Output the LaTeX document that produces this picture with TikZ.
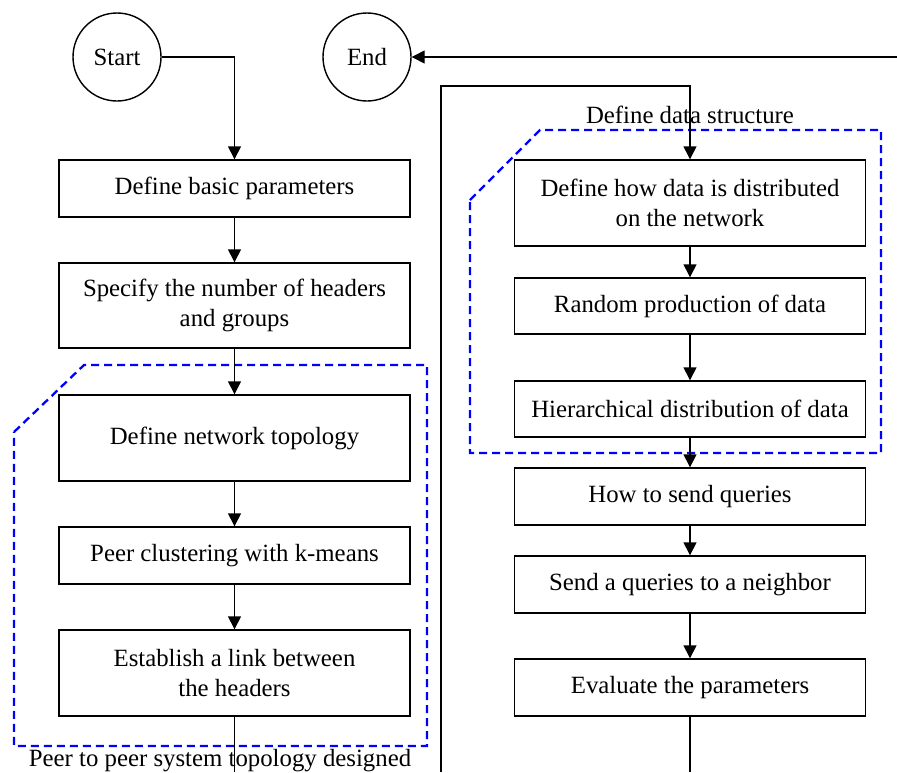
\documentclass[tikz,border=0pt]{standalone}
\usepackage{fontspec}
\setmainfont{Liberation Serif}
\usetikzlibrary{arrows.meta}
\begin{document}
\begin{tikzpicture}[x=1pt,y=-1pt,
  every node/.style={font=\fontsize{24.8}{30}\selectfont},
  box/.style={draw, line width=1.4pt, minimum width=351pt, inner sep=0pt, align=center},
  term/.style={draw, circle, line width=1.4pt, minimum size=88pt, inner sep=0pt},
  link/.style={line width=1.4pt},
  arr/.style={line width=1.4pt, -{Triangle[length=13pt,width=13pt]}},
  group/.style={draw=blue, line width=2.3pt, dash pattern=on 8pt off 5pt}]
\useasboundingbox (0,0) rectangle (897,772);
% groups
\draw[group] (14,432) -- (84,365) -- (427,365) -- (427,746) -- (14,746) -- cycle;
\draw[group] (470,200) -- (540,130) -- (881,130) -- (881,453) -- (470,453) -- cycle;
% terminals
\node[term] (start) at (117,57) {Start};
\node[term] (end) at (367,57) {End};
% left column
\node[box, minimum height=57pt] (b1) at (234.5,188.5) {Define basic parameters};
\node[box, minimum height=85pt] (b2) at (234.5,305.5) {Specify the number of headers\\and groups};
\node[box, minimum height=86pt] (b3) at (234.5,438) {Define network topology};
\node[box, minimum height=57pt] (b4) at (234.5,555.5) {Peer clustering with k-means};
\node[box, minimum height=86pt] (b5) at (234.5,673) {Establish a link between\\the headers};
% right column
\node[box, minimum height=86pt] (r1) at (690,203) {Define how data is distributed\\on the network};
\node[box, minimum height=56pt] (r2) at (690,306) {Random production of data};
\node[box, minimum height=56pt] (r3) at (690,409) {Hierarchical distribution of data};
\node[box, minimum height=57pt] (r4) at (690,496.5) {How to send queries};
\node[box, minimum height=57pt] (r5) at (690,584.5) {Send a queries to a neighbor};
\node[box, minimum height=57pt] (r6) at (690,687.5) {Evaluate the parameters};
% labels
\node (lblR) at (690,115) {Define data structure};
\node (lblL) at (220,761) {Peer to peer system topology designed};
% coordinates
\coordinate (lbot) at (234.5,772);
\coordinate (rbot) at (690,772);
\coordinate (loopbot) at (441,772);
\coordinate (looptop) at (441,86);
\coordinate (endin) at (897,57);
% connectors
\draw[arr] (start.east) -| (b1.north);
\draw[arr] (b1) -- (b2);
\draw[arr] (b2) -- (b3);
\draw[arr] (b3) -- (b4);
\draw[arr] (b4) -- (b5);
\draw[link] (b5.south) -- (lbot);
\draw[arr] (loopbot) -- (looptop) -| (r1.north);
\draw[arr] (r1) -- (r2);
\draw[arr] (r2) -- (r3);
\draw[arr] (r3) -- (r4);
\draw[arr] (r4) -- (r5);
\draw[arr] (r5) -- (r6);
\draw[link] (r6.south) -- (rbot);
\draw[arr] (endin) -- (end.east);
\end{tikzpicture}
\end{document}
